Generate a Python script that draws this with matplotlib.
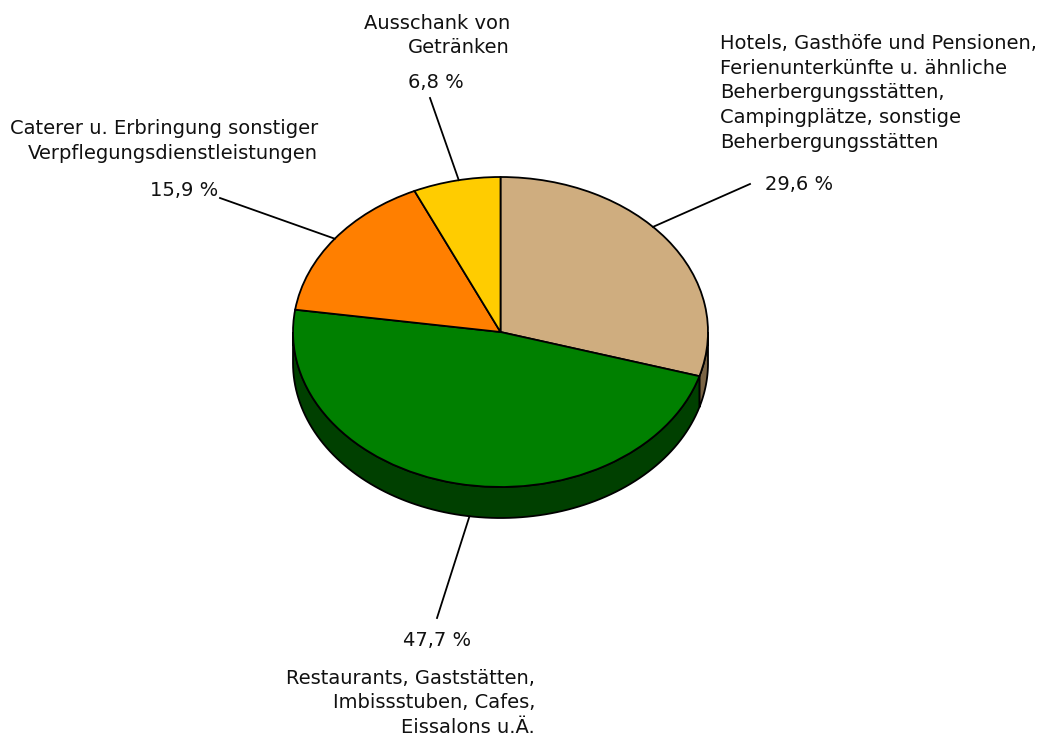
import numpy as np
import matplotlib
matplotlib.use("Agg")
import matplotlib.pyplot as plt
from matplotlib.patches import Polygon

# ---- data ----
labels = [
    "Hotels, Gasthöfe und Pensionen,\nFerienunterkünfte u. ähnliche\nBeherbergungsstätten,\nCampingplätze, sonstige\nBeherbergungsstätten",
    "Restaurants, Gaststätten,\nImbissstuben, Cafes,\nEissalons u.Ä.",
    "Caterer u. Erbringung sonstiger\nVerpflegungsdienstleistungen",
    "Ausschank von\nGetränken",
]
values = [29.6, 47.7, 15.9, 6.8]
pct_labels = ["29,6 %", "47,7 %", "15,9 %", "6,8 %"]
top_colors = ["#CFAD7F", "#008000", "#FF7F00", "#FFCC00"]
side_colors = ["#7A6445", "#004000", "#8A4400", "#8A6E00"]

W, H = 1045, 742
fig = plt.figure(figsize=(W / 100, H / 100), dpi=100)
ax = fig.add_axes([0, 0, 1, 1])
rx, ry = 207.5, 155.0
cx_pix, cy_pix = 500.5, 332.0
depth = 31.0 / ry
lw = 1.3

# boundaries (ccw degrees), pie goes clockwise from 90
fr = np.array(values) / sum(values)
ends = 90 - 360 * np.cumsum(fr)
starts = np.concatenate([[90], ends[:-1]])

# sides (front half, angles in 180..360)
for s, e, c in zip(starts, ends, side_colors):
    lo, hi = min(s, e), max(s, e)
    for k in (-360, 0, 360):
        a0, a1 = max(lo + k, 180), min(hi + k, 360)
        if a1 > a0:
            t = np.radians(np.linspace(a0, a1, 100))
            xs, ys = np.cos(t), np.sin(t)
            pts = np.vstack([np.column_stack([xs, ys]),
                             np.column_stack([xs[::-1], ys[::-1] - depth])])
            ax.add_patch(Polygon(pts, closed=True, facecolor=c,
                                 edgecolor="black", linewidth=lw, zorder=1))

# top face
ax.pie(values, colors=top_colors, startangle=90, counterclock=False,
       radius=1, center=(0, 0), frame=True,
       wedgeprops=dict(edgecolor="black", linewidth=lw, zorder=2))
ax.set_xlim(-cx_pix / rx, (W - cx_pix) / rx)
ax.set_ylim(-(H - cy_pix) / ry, cy_pix / ry)
ax.set_aspect("auto")
ax.axis("off")

def px(x, y):
    return ((x - cx_pix) / rx, (cy_pix - y) / ry)

font = dict(family="DejaVu Sans", fontsize=14.0, color="#111111")

# leader lines: (anchor angle deg, depth offset, end pixel)
lines = [((42.7, 0.0), (750, 184)),
         ((-98.6, depth), (437, 618)),
         ((143.0, 0.0), (220, 198)),
         ((101.6, 0.0), (430, 98))]
for (ang, dd), (ex, ey) in lines:
    t = np.radians(ang)
    x0, y0 = np.cos(t), np.sin(t) - dd
    x1, y1 = px(ex, ey)
    ax.plot([x0, x1], [y0, y1], color="black", linewidth=1.3, zorder=3)

# percent labels
ax.text(*px(765, 185), pct_labels[0], ha="left", va="center", **font)
ax.text(*px(437, 640), pct_labels[1], ha="center", va="center", **font)
ax.text(*px(218, 190), pct_labels[2], ha="right", va="center", **font)
ax.text(*px(436, 82), pct_labels[3], ha="center", va="center", **font)

# category labels
ls = 1.39
ax.text(*px(720, 93), labels[0], ha="left", va="center", linespacing=ls, **font)
ax.text(*px(535, 703), labels[1], ha="right", va="center", linespacing=ls, **font)
ax.text(*px(318, 141), labels[2], ha="right", va="center", linespacing=ls, **font)
ax.text(*px(510, 35.5), labels[3], ha="right", va="center", linespacing=ls, **font)

fig.savefig("out.png", dpi=100, facecolor="white")
